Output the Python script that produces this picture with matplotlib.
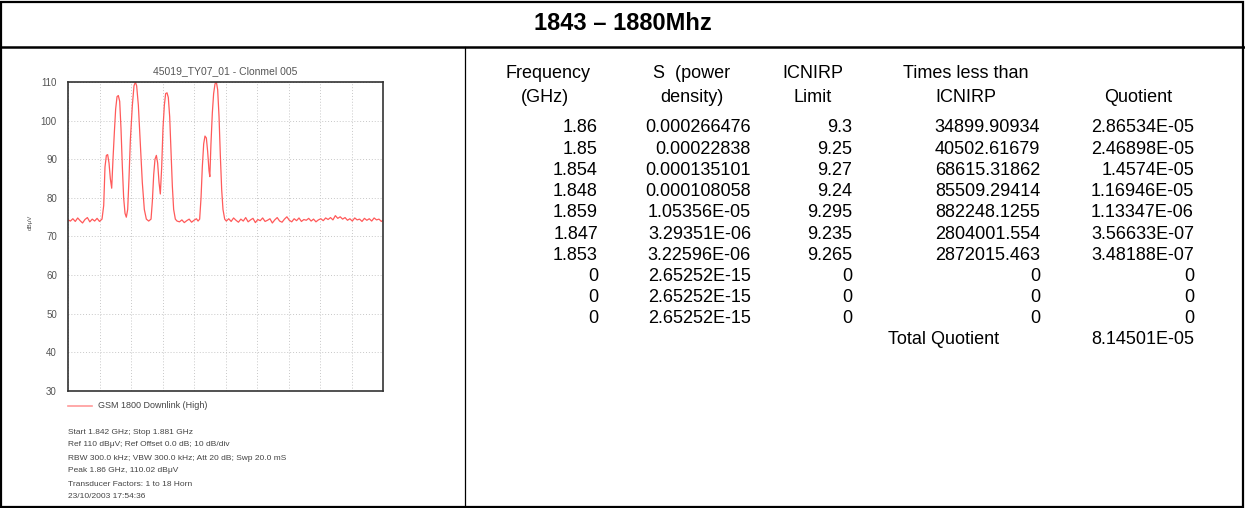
import matplotlib
matplotlib.use("Agg")
from matplotlib import pyplot as plt
from matplotlib.lines import Line2D

plt.rcParams['font.family'] = ['Liberation Sans', 'DejaVu Sans']

# spectrum trace (MHz, dBuV)
freq_mhz = [
    1842.0, 1842.3, 1842.6, 1842.9, 1843.2, 1843.5, 1843.8, 1844.1, 1844.4, 1844.7,
    1845.0, 1845.3, 1845.6, 1845.9,
    1846.21, 1846.42, 1846.58, 1846.75, 1846.91, 1847.08, 1847.24, 1847.41, 1847.57, 1847.74,
    1847.90, 1848.07, 1848.23, 1848.40, 1848.56, 1848.73, 1848.89, 1849.06, 1849.22, 1849.39,
    1849.55, 1849.72, 1849.97, 1850.17, 1850.34, 1850.50, 1850.71, 1850.96, 1851.20, 1851.45,
    1851.70, 1851.99, 1852.28, 1852.44, 1852.61, 1852.77, 1852.94, 1853.10, 1853.27, 1853.43,
    1853.60, 1853.76, 1853.93, 1854.09, 1854.26, 1854.42, 1854.59, 1854.75, 1854.92, 1855.08,
    1855.29, 1855.50,
    1855.8, 1856.1, 1856.4, 1856.7, 1857.0, 1857.3, 1857.6, 1857.9, 1858.1,
    1858.30, 1858.47, 1858.63, 1858.80, 1858.96, 1859.13, 1859.29, 1859.46, 1859.56, 1859.70,
    1859.87, 1860.03, 1860.20, 1860.37, 1860.53, 1860.70, 1860.86, 1861.03, 1861.19, 1861.40,
    1861.60,
    1861.9, 1862.2, 1862.5, 1862.8, 1863.1, 1863.4, 1863.7, 1864.0, 1864.3, 1864.6,
    1864.9, 1865.2, 1865.5, 1865.8, 1866.1, 1866.4, 1866.7, 1867.0, 1867.3, 1867.6,
    1867.9, 1868.2, 1868.5, 1868.8, 1869.1, 1869.4, 1869.7, 1870.0, 1870.3, 1870.6,
    1870.9, 1871.2, 1871.5, 1871.8, 1872.1, 1872.4, 1872.7, 1873.0, 1873.3, 1873.6,
    1873.9, 1874.2, 1874.5, 1874.8, 1875.1, 1875.4, 1875.7, 1876.0, 1876.3, 1876.6,
    1876.9, 1877.2, 1877.5, 1877.8, 1878.1, 1878.4, 1878.7, 1879.0, 1879.3, 1879.6,
    1879.9, 1880.2, 1880.5, 1880.8, 1881.0,
]
level_dbuv = [
    74.3, 74.0, 74.6, 73.9, 74.8, 74.1, 73.5, 74.4, 74.9, 73.8,
    74.5, 74.0, 74.7, 73.9,
    74.5, 78.0, 88.0, 91.0, 91.2, 89.0, 85.0, 82.5, 90.0, 97.0,
    103.0, 106.2, 106.5, 105.0, 98.0, 88.0, 80.0, 76.0, 75.0, 77.0,
    85.0, 95.0, 104.0, 109.0, 110.0, 109.0, 104.0, 94.0, 84.0, 77.0,
    74.5, 74.0, 74.5, 79.0, 86.0, 90.0, 91.0, 89.0, 84.0, 81.0,
    88.0, 98.0, 104.0, 107.0, 107.2, 106.0, 101.0, 92.0, 83.0, 77.0,
    74.5, 74.0,
    73.8, 74.3, 73.6, 74.1, 74.5, 73.7, 74.2, 74.6, 74.0,
    74.5, 80.0, 88.0, 94.0, 96.0, 95.5, 92.0, 87.0, 85.5, 94.0,
    102.0, 107.0, 109.5, 110.0, 108.0, 101.0, 91.0, 82.0, 77.0, 74.5,
    74.0,
    74.6, 73.9, 74.8, 74.2, 73.7, 74.5, 74.0, 74.9, 73.8, 74.3,
    74.7, 73.6, 74.4, 74.1, 74.8, 73.9, 74.2, 74.6, 73.5, 74.3,
    74.9, 74.0, 73.7, 74.5, 75.1, 74.2, 73.8, 74.6, 74.1, 74.8,
    73.9, 74.4, 74.2, 74.7, 74.0, 74.5, 73.8, 74.3, 74.6, 74.1,
    74.8, 74.4, 74.9, 74.3, 75.4, 74.7, 75.1, 74.5, 74.9, 74.2,
    74.6, 74.0, 74.8, 74.3, 74.5, 73.9, 74.7, 74.2, 74.6, 74.0,
    74.8, 74.3, 74.5, 73.9, 74.2,
]
y_ticks = [30, 40, 50, 60, 70, 80, 90, 100, 110]
info_lines = [
    "Start 1.842 GHz; Stop 1.881 GHz",
    "Ref 110 dB\u03bcV; Ref Offset 0.0 dB; 10 dB/div",
    "RBW 300.0 kHz; VBW 300.0 kHz; Att 20 dB; Swp 20.0 mS",
    "Peak 1.86 GHz, 110.02 dB\u03bcV",
    "Transducer Factors: 1 to 18 Horn",
    "23/10/2003 17:54:36",
]

# table columns
col_freq = ["1.86", "1.85", "1.854", "1.848", "1.859", "1.847", "1.853", "0", "0", "0"]
col_s = ["0.000266476", "0.00022838", "0.000135101", "0.000108058", "1.05356E-05",
         "3.29351E-06", "3.22596E-06", "2.65252E-15", "2.65252E-15", "2.65252E-15"]
col_limit = ["9.3", "9.25", "9.27", "9.24", "9.295", "9.235", "9.265", "0", "0", "0"]
col_times = ["34899.90934", "40502.61679", "68615.31862", "85509.29414", "882248.1255",
             "2804001.554", "2872015.463", "0", "0", "0"]
col_quot = ["2.86534E-05", "2.46898E-05", "1.4574E-05", "1.16946E-05", "1.13347E-06",
            "3.56633E-07", "3.48188E-07", "0", "0", "0"]
total_quotient = "8.14501E-05"

W, H = 1245, 508
fig = plt.figure(figsize=(W / 100, H / 100), dpi=100)

def fx(px):
    return px / W

def fy(py):
    return 1 - py / H

# frame lines
fig.add_artist(plt.Rectangle((0.001, 0.002), 0.997, 0.995, fill=False, lw=1.6,
                             ec='black', transform=fig.transFigure))
fig.add_artist(Line2D([0, 1], [fy(47), fy(47)], color='black', lw=1.8, transform=fig.transFigure))
fig.add_artist(Line2D([fx(465), fx(465)], [fy(47), 0], color='black', lw=0.9, transform=fig.transFigure))

fig.text(0.5, fy(23), "1843 \u2013 1880Mhz", ha='center', va='center',
         fontsize=17, fontweight='bold')

# analyser plot
ax = fig.add_axes([fx(68), fy(391), fx(383) - fx(68), fy(82) - fy(391)])
ax.plot([f / 1000 for f in freq_mhz], level_dbuv, color='#ff5a5a', lw=0.9)
ax.set_xlim(1.842, 1.881)
ax.set_ylim(30, 110)
ax.set_yticks(y_ticks)
ax.set_xticks([1.842 + i * 0.0039 for i in range(11)])
ax.set_xticklabels([])
ax.tick_params(length=0, labelsize=7, labelcolor='#555555', pad=8)
ax.grid(True, color='#c8c8c8', linestyle=(0, (1, 2)), lw=0.7)
for s in ax.spines.values():
    s.set_color('#333333')
    s.set_linewidth(1.2)
ax.set_title("45019_TY07_01 - Clonmel 005", fontsize=7.5, color='#555555', pad=6)
fig.text(fx(30), fy(222), "dB\u03bcV", rotation=90, fontsize=4.5, color='#555555',
         ha='center', va='center')

# legend entry
fig.add_artist(Line2D([fx(68), fx(92)], [fy(406), fy(406)], color='#ff9a9a', lw=1.2,
                      transform=fig.transFigure))
fig.text(fx(98), fy(406), "GSM 1800 Downlink (High)", fontsize=6.5, color='#444444', va='center')
for i, line in enumerate(info_lines):
    fig.text(fx(68), fy(432 + i * 13), line, fontsize=6, color='#444444', va='center')

# table
fs = 13
hdr1 = 74
hdr2 = 98
for txt, xc in [("Frequency", 548), ("S  (power", 692), ("ICNIRP", 813), ("Times less than", 966)]:
    fig.text(fx(xc), fy(hdr1), txt, ha='center', va='center', fontsize=fs)
for txt, xc in [("(GHz)", 545), ("density)", 692), ("Limit", 813), ("ICNIRP", 966), ("Quotient", 1138)]:
    fig.text(fx(xc), fy(hdr2), txt, ha='center', va='center', fontsize=fs)

row_y0 = 128
row_step = 21.2
cols = [(col_freq, 598), (col_s, 751), (col_limit, 852), (col_times, 1040), (col_quot, 1194)]
for values, xr in cols:
    for i, v in enumerate(values):
        fig.text(fx(xr), fy(row_y0 + i * row_step), v, ha='right', va='center', fontsize=fs)
ty = row_y0 + len(col_freq) * row_step
fig.text(fx(944), fy(ty), "Total Quotient", ha='center', va='center', fontsize=fs)
fig.text(fx(1194), fy(ty), total_quotient, ha='right', va='center', fontsize=fs)

fig.savefig("out.png", dpi=100)
